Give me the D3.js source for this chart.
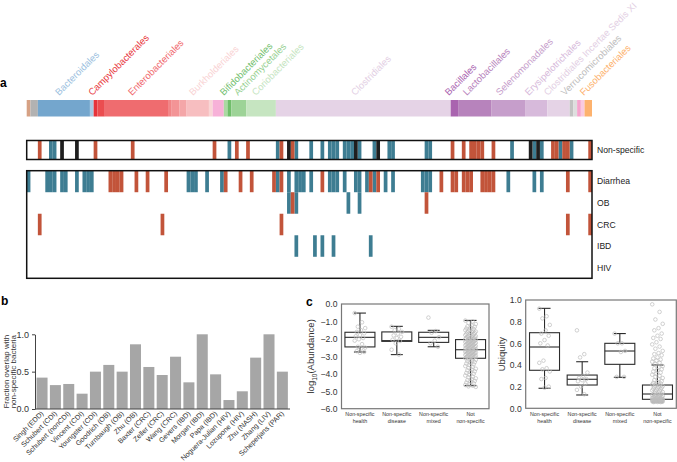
<!DOCTYPE html>
<html>
<head>
<meta charset="utf-8">
<script src="https://cdn.jsdelivr.net/npm/d3@7"></script>
<style>
  body { margin: 0; background: #fff; }
  svg { font-family: "Liberation Sans", Arial, Helvetica, sans-serif; }
</style>
</head>
<body>
<svg id="fig" width="677" height="462"></svg>
<script>
// ---- panel a: taxa strip ----
const nCols = 152;
const orderSegments = [
  [0, 1, '#d6a184'], [1, 3, '#b2b2b2'], [3, 17, '#74a6cd'], [17, 18, '#a9c8e2'],
  [18, 19, '#e6333a'], [19, 21, '#eb4d50'], [21, 38, '#ef6c6f'], [38, 39, '#f18587'],
  [39, 41, '#f39496'], [41, 43, '#f4a6a8'], [43, 49, '#f7bec0'], [49, 50, '#f9d6d6'],
  [50, 53, '#f7b1d8'], [53, 54, '#abd9a2'], [54, 55, '#70be6b'], [55, 59, '#9dd397'],
  [59, 67, '#c6e5c1'], [67, 114, '#e5d3e6'], [114, 116, '#a964af'], [116, 125, '#b783bc'],
  [125, 134, '#c69ecb'], [134, 140, '#d7badb'], [140, 146, '#e5d3e6'], [146, 147, '#c2c2c2'],
  [147, 148, '#dedede'], [148, 149, '#f5a3cd'], [149, 150, '#f9cadf'], [150, 152, '#fdb26e']
];
const orderNames = ['Bacteroidales', 'Campylobacterales', 'Enterobacteriales', 'Burkholderiales',
  'Bifidobacteriales', 'Actinomycetales', 'Coriobacteriales', 'Clostridiales', 'Bacillales',
  'Lactobacillales', 'Selenomonadales', 'Erysipelotrichales', 'Clostridiales Incertae Sedis XI',
  'Verrucomicrobiales', 'Fusobacteriales'];
const orderLabelCols = [8.7, 17.6, 28.3, 44.7, 53.0, 56.8, 61.6, 88.3, 113.5, 118.3, 127.2, 135.0, 140.1, 144.7, 149.8];
const orderLabelColors = ['#9cbfe0', '#e8383d', '#f0686c', '#f9d3d4', '#72c06e', '#98d192', '#c5e5c1',
  '#e3cfe4', '#a964af', '#b783bc', '#c69ecb', '#d7badb', '#e3cfe4', '#bdbdbd', '#fdb26e'];

// cells: h = health-associated (teal), d = disease-associated (red), b = both (black)
const nonSpecific = {
  h: [6, 7, 54, 67, 72, 76, 79, 81, 82, 83, 85, 86, 87, 89, 93, 97, 98, 107, 108, 130, 136, 138, 143, 146],
  d: [3, 18, 28, 50, 56, 59, 68, 71, 114, 117, 119, 120, 121, 122, 125, 141, 142, 144, 145, 151],
  b: [9, 13, 70, 88, 94, 135, 137]
};
const diseaseRows = ['Diarrhea', 'OB', 'CRC', 'IBD', 'HIV'];
const diseaseCells = {
  Diarrhea: {
    h: [0, 5, 6, 7, 9, 10, 13, 15, 16, 17, 43, 44, 45, 48, 52, 67, 70, 72, 73, 74, 76, 81, 82, 83, 85,
        88, 89, 91, 93, 96, 98, 106, 107, 108, 129, 136, 138],
    d: [22, 23, 24, 25, 29, 32, 37, 53, 57, 60, 66, 68, 79, 92, 94, 111, 114, 115, 117, 118, 119,
        122, 123, 124, 125, 145, 151]
  },
  OB: { h: [70, 72, 86, 89], d: [71, 107] },
  CRC: { h: [], d: [3, 36, 68, 145, 151] },
  IBD: { h: [72, 77, 79, 82, 92], d: [] },
  HIV: { h: [], d: [] }
};

// ---- panel b ----
const studies = ['Singh (EDD)', 'Schubert (CDI)', 'Schubert (nonCDI)', 'Vincent (CDI)', 'Youngster (CDI)',
  'Goodrich (OB)', 'Turnbaugh (OB)', 'Zhu (OB)', 'Baxter (CRC)', 'Zeller (CRC)', 'Wang (CRC)',
  'Gevers (IBD)', 'Morgan (IBD)', 'Papa (IBD)', 'Noguera-Julian (HIV)', 'Lozupone (HIV)',
  'Zhu (NASH)', 'Zhang (LIV)', 'Scheperjans (PAR)'];
const overlap = [0.42, 0.32, 0.335, 0.205, 0.5, 0.59, 0.5, 0.866, 0.5625, 0.455, 0.70, 0.357,
  1.0, 0.464, 0.12, 0.237, 0.6875, 1.0, 0.5];
const overlapTicks = [0, 0.5, 1];

// ---- panel c ----
const groups = ['health', 'disease', 'mixed', 'not'];
const groupLines = [['Non-specific', 'health'], ['Non-specific', 'disease'], ['Non-specific', 'mixed'], ['Not', 'non-specific']];
// [lower whisker, q1, median, q3, upper whisker]
const abundStats = [[-2.75, -2.46, -1.91, -1.62, -0.52], [-2.9, -2.14, -2.1, -1.6, -1.28],
  [-2.45, -2.2, -1.91, -1.62, -1.51], [-4.68, -3.11, -2.62, -2.04, -0.94]];
const ubiqStats = [[0.185, 0.351, 0.566, 0.698, 0.923], [0.123, 0.215, 0.268, 0.307, 0.43],
  [0.286, 0.406, 0.529, 0.6, 0.69], [0.058, 0.083, 0.132, 0.215, 0.40]];
const abundTicks = [0, -1, -2, -3, -4, -5, -6];
const ubiqTicks = [0, 0.2, 0.4, 0.6, 0.8, 1.0];

const abundHealth = [-0.52, -1.05, -1.3, -1.38, -1.5, -1.6, -1.68, -1.78, -1.85, -1.95, -2.02, -2.1, -2.3, -2.45, -2.5, -2.55, -2.7, -2.75, -2.8];
const abundDisease = [-1.3, -1.42, -1.5, -1.6, -1.7, -1.8, -1.88, -1.95, -2.05, -2.12, -2.25, -2.62, -2.9];
const abundMixed = [-0.78, -1.55, -1.65, -1.9, -2.1, -2.25, -2.45];
const abundNot = [-0.95, -1.0, -1.08, -1.15, -1.22, -1.28, -1.31, -1.36, -1.4, -1.43, -1.47, -1.5, -1.52, -1.56,
  -1.58, -1.61, -1.63, -1.66, -1.68, -1.71, -1.73, -1.76, -1.78, -1.8, -1.83, -1.85, -1.87, -1.89, -1.91, -1.93,
  -1.95, -1.97, -1.99, -2.0, -2.02, -2.03, -2.05, -2.07, -2.08, -2.1, -2.12, -2.13, -2.15, -2.17, -2.18, -2.2,
  -2.22, -2.23, -2.25, -2.27, -2.28, -2.3, -2.32, -2.33, -2.35, -2.37, -2.38, -2.4, -2.42, -2.43, -2.45, -2.47,
  -2.48, -2.5, -2.52, -2.53, -2.55, -2.57, -2.58, -2.6, -2.61, -2.63, -2.65, -2.66, -2.68, -2.7, -2.71, -2.73,
  -2.75, -2.76, -2.78, -2.8, -2.81, -2.83, -2.85, -2.86, -2.88, -2.9, -2.91, -2.93, -2.95, -2.96, -2.98, -3.0,
  -3.01, -3.03, -3.05, -3.06, -3.08, -3.1, -3.13, -3.17, -3.2, -3.25, -3.28, -3.33, -3.37, -3.41, -3.46, -3.5,
  -3.56, -3.6, -3.66, -3.71, -3.76, -3.8, -3.86, -3.9, -3.95, -4.0, -4.06, -4.1, -4.16, -4.2, -4.26, -4.31,
  -4.36, -4.41, -4.45, -4.5, -4.55, -4.6, -4.64, -4.68, -4.72, -4.75];

const ubiqHealth = [0.92, 0.85, 0.83, 0.77, 0.72, 0.69, 0.67, 0.63, 0.6, 0.58, 0.44, 0.42, 0.37, 0.36, 0.34, 0.28, 0.27, 0.2, 0.19];
const ubiqDisease = [0.72, 0.5, 0.47, 0.33, 0.3, 0.28, 0.27, 0.26, 0.25, 0.23, 0.2, 0.17, 0.13];
const ubiqMixed = [0.69, 0.6, 0.6, 0.53, 0.52, 0.29, 0.29];
const ubiqNot = [0.96, 0.89, 0.82, 0.78, 0.74, 0.72, 0.69, 0.67, 0.65, 0.64, 0.61, 0.59, 0.57, 0.55, 0.53, 0.51,
  0.5, 0.49, 0.47, 0.46, 0.45, 0.44, 0.43, 0.42, 0.41, 0.39, 0.38, 0.37, 0.36, 0.35, 0.34, 0.33, 0.32, 0.31,
  0.3, 0.29, 0.28, 0.27, 0.26, 0.25, 0.24, 0.235, 0.23, 0.225, 0.22, 0.215, 0.21, 0.205, 0.2, 0.195, 0.19,
  0.185, 0.18, 0.175, 0.17, 0.165, 0.16, 0.155, 0.15, 0.145, 0.14, 0.135, 0.13, 0.128, 0.125, 0.122, 0.12,
  0.117, 0.115, 0.112, 0.11, 0.107, 0.105, 0.102, 0.1, 0.098, 0.095, 0.093, 0.09, 0.088, 0.086, 0.084, 0.083,
  0.082, 0.08, 0.079, 0.078, 0.077, 0.076, 0.075, 0.074, 0.073, 0.072, 0.071, 0.07, 0.069, 0.068, 0.067,
  0.066, 0.065, 0.064, 0.063, 0.062, 0.061, 0.06, 0.06, 0.059, 0.058, 0.058];

const TEAL = '#3e7d92', RED = '#c2543a', BLACK = '#1f1f1f';
const cellColor = { h: TEAL, d: RED, b: BLACK };

const svg = d3.select('#fig');

// panel letters
[['a', 0, 87], ['b', 1, 305], ['c', 306, 306]].forEach(([t, x, y]) => {
  svg.append('text').attr('x', x).attr('y', y).attr('font-size', 12).attr('font-weight', 'bold').text(t);
});

// ===== panel a =====
const xCol = d3.scaleLinear().domain([0, nCols]).range([26.7, 592]);
const colW = xCol(1) - xCol(0);

const strip = svg.append('g');
strip.selectAll('rect').data(orderSegments).join('rect')
  .attr('x', d => xCol(d[0])).attr('width', d => xCol(d[1]) - xCol(d[0]))
  .attr('y', 100).attr('height', 16.5)
  .attr('fill', d => d[2]);

svg.append('g').selectAll('text').data(orderNames).join('text')
  .attr('transform', (d, i) => `translate(${xCol(orderLabelCols[i])},96) rotate(-45)`)
  .attr('font-size', 9.5)
  .attr('fill', (d, i) => orderLabelColors[i])
  .text(d => d);

function drawCells(g, cells, y, h) {
  Object.keys(cells).forEach(k => {
    g.selectAll(null).data(cells[k]).join('rect')
      .attr('x', c => xCol(c)).attr('width', colW)
      .attr('y', y).attr('height', h)
      .attr('fill', cellColor[k]);
  });
}

// non-specific row
const nsTop = 140.5, nsBot = 159.5;
const nsG = svg.append('g');
drawCells(nsG, nonSpecific, nsTop, nsBot - nsTop);
nsG.append('rect').attr('x', xCol(0)).attr('y', nsTop).attr('width', xCol(nCols) - xCol(0))
  .attr('height', nsBot - nsTop).attr('fill', 'none').attr('stroke', '#111').attr('stroke-width', 1.5);

// disease rows
const yRow = d3.scaleBand().domain(diseaseRows).range([170.7, 278.3]);
const dzG = svg.append('g');
diseaseRows.forEach(r => drawCells(dzG, diseaseCells[r], yRow(r), yRow.bandwidth()));
dzG.append('rect').attr('x', xCol(0)).attr('y', yRow.range()[0]).attr('width', xCol(nCols) - xCol(0))
  .attr('height', yRow.range()[1] - yRow.range()[0]).attr('fill', 'none').attr('stroke', '#111').attr('stroke-width', 1.5);

const rowLabelX = xCol(nCols) + 5;
svg.append('text').attr('x', rowLabelX).attr('y', (nsTop + nsBot) / 2).attr('dy', '0.35em')
  .attr('font-size', 8.6).attr('fill', '#222').text('Non-specific');
svg.append('g').selectAll('text').data(diseaseRows).join('text')
  .attr('x', rowLabelX).attr('y', d => yRow(d) + yRow.bandwidth() / 2).attr('dy', '0.35em')
  .attr('font-size', 8.6).attr('fill', '#222').text(d => d);

// ===== panel b =====
const xB = d3.scaleBand().domain(studies).range([35.2, 289.2]).paddingInner(0.175).paddingOuter(0.1);
const yB = d3.scaleLinear().domain([0, 1]).range([409, 334.3]);
const gB = svg.append('g');
gB.selectAll('rect').data(studies).join('rect')
  .attr('x', d => xB(d)).attr('width', xB.bandwidth())
  .attr('y', (d, i) => yB(overlap[i])).attr('height', (d, i) => yB(0) - yB(overlap[i]))
  .attr('fill', '#a6a6a6');

const axB = gB.append('g').attr('transform', 'translate(35,0)')
  .call(d3.axisLeft(yB).tickValues(overlapTicks).tickFormat(d3.format('.1f')).tickSize(3).tickSizeOuter(0));
axB.select('.domain').attr('stroke', '#444');
axB.selectAll('.tick line').attr('stroke', '#444');
axB.selectAll('.tick text').attr('font-size', 9).attr('fill', '#333').attr('font-family', null);
gB.append('line').attr('x1', 35).attr('x2', 290).attr('y1', yB(0)).attr('y2', yB(0)).attr('stroke', '#444');

gB.selectAll('text.study').data(studies).join('text').attr('class', 'study')
  .attr('transform', d => `translate(${xB(d) + xB.bandwidth() / 2 + 2},414) rotate(-45)`)
  .attr('text-anchor', 'end').attr('font-size', 7.1).attr('fill', '#333').text(d => d);

const ylabB = gB.append('text').attr('transform', `translate(0,${yB(0.5)}) rotate(-90)`)
  .attr('text-anchor', 'middle').attr('font-size', 8).attr('fill', '#333');
ylabB.append('tspan').attr('x', 0).attr('y', 8.5).text('Fraction overlap with');
ylabB.append('tspan').attr('x', 0).attr('y', 15.5).text('non-specific bacteria');

// ===== panel c =====
const jitter = i => ((i * 7) % 11 - 5) * 1.05;

function boxPanel(opts) {
  const g = svg.append('g');
  const x = d3.scalePoint().domain(groups).range([opts.x0, opts.x1]).padding(0.5);
  const y = d3.scaleLinear().domain(opts.domain).range([opts.yBot, opts.yTop]);
  const bw = 30, cap = 12;

  g.append('rect').attr('x', opts.x0).attr('y', y(opts.domain[1])).attr('width', opts.x1 - opts.x0)
    .attr('height', y(opts.domain[0]) - y(opts.domain[1])).attr('fill', 'none')
    .attr('stroke', '#777').attr('stroke-width', 1.2);

  const ax = g.append('g').attr('transform', `translate(${opts.x0},0)`)
    .call(d3.axisLeft(y).tickValues(opts.ticks).tickFormat(d3.format('.1f')).tickSize(0).tickPadding(4));
  ax.select('.domain').remove();
  ax.selectAll('.tick text').attr('font-size', 8.6).attr('fill', '#333').attr('font-family', null);

  groups.forEach((grp, gi) => {
    const s = opts.stats[gi], cx = x(grp);
    const bg = g.append('g').attr('stroke', '#2b2b2b').attr('stroke-width', 1.1).attr('fill', 'none');
    bg.append('line').attr('x1', cx).attr('x2', cx).attr('y1', y(s[0])).attr('y2', y(s[1]));
    bg.append('line').attr('x1', cx).attr('x2', cx).attr('y1', y(s[3])).attr('y2', y(s[4]));
    bg.append('line').attr('x1', cx - cap / 2).attr('x2', cx + cap / 2).attr('y1', y(s[0])).attr('y2', y(s[0]));
    bg.append('line').attr('x1', cx - cap / 2).attr('x2', cx + cap / 2).attr('y1', y(s[4])).attr('y2', y(s[4]));
    bg.append('rect').attr('x', cx - bw / 2).attr('width', bw).attr('y', y(s[3])).attr('height', y(s[1]) - y(s[3]));
    bg.append('line').attr('x1', cx - bw / 2).attr('x2', cx + bw / 2).attr('y1', y(s[2])).attr('y2', y(s[2]));

    g.append('g').selectAll('circle').data(opts.points[gi]).join('circle')
      .attr('cx', (d, i) => cx + jitter(i)).attr('cy', d => y(d)).attr('r', 1.8)
      .attr('fill', 'none').attr('stroke', '#bdbdbd').attr('stroke-width', 0.7);

    const lab = g.append('text').attr('text-anchor', 'middle').attr('font-size', 5.3).attr('fill', '#333');
    groupLines[gi].forEach((t, li) => lab.append('tspan').attr('x', cx).attr('y', 416 + li * 7).text(t));
  });

  const yl = g.append('text').attr('transform', `translate(${opts.labelX},${(opts.yTop + opts.yBot) / 2}) rotate(-90)`)
    .attr('text-anchor', 'middle').attr('font-size', 9.5).attr('fill', '#333');
  opts.label(yl);
}

boxPanel({
  x0: 341.5, x1: 489, yTop: 304, yBot: 408.7, domain: [-6, 0], ticks: abundTicks,
  stats: abundStats, points: [abundHealth, abundDisease, abundMixed, abundNot], labelX: 314,
  label: t => {
    t.append('tspan').text('log');
    t.append('tspan').attr('font-size', 6.5).attr('dy', 2.5).text('10');
    t.append('tspan').attr('dy', -2.5).text('(Abundance)');
  }
});

boxPanel({
  x0: 525.7, x1: 676.3, yTop: 300, yBot: 408.3, domain: [0, 1], ticks: ubiqTicks,
  stats: ubiqStats, points: [ubiqHealth, ubiqDisease, ubiqMixed, ubiqNot], labelX: 505,
  label: t => t.text('Ubiquity')
});
</script>
</body>
</html>
